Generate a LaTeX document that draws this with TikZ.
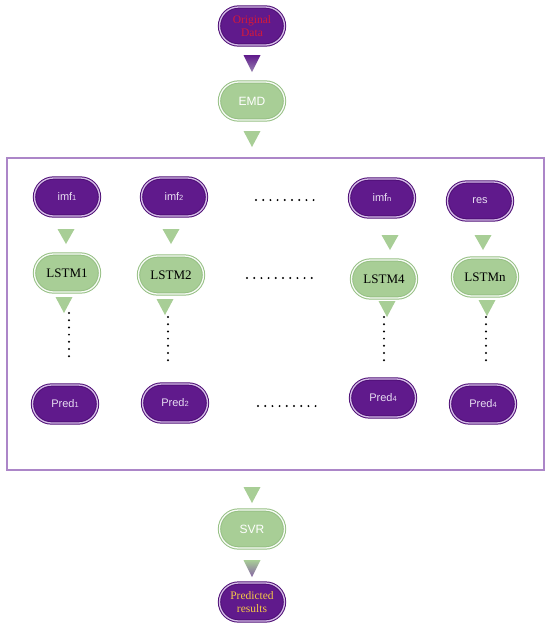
\documentclass[tikz,border=0pt]{standalone}
\usepackage{fontspec}
\setmainfont{Liberation Serif}
\setsansfont{Liberation Sans}
\usetikzlibrary{shapes.misc,calc}
\definecolor{pp}{RGB}{96,26,140}
\definecolor{ppedge}{RGB}{78,14,118}
\definecolor{lav}{RGB}{214,190,232}
\definecolor{gg}{RGB}{168,206,150}
\definecolor{ggedge}{RGB}{150,192,132}
\definecolor{framec}{RGB}{172,134,200}
\definecolor{txtlav}{RGB}{232,222,242}
\definecolor{origred}{RGB}{215,25,55}
\definecolor{predyel}{RGB}{245,200,70}
\definecolor{trigrey}{RGB}{150,130,175}
\newcommand\tridown[3][gg]{\fill[#1] ($(#2)+(-8.5,0)$) -- ($(#2)+(8.5,0)$) -- ($(#2)+(0,#3)$) -- cycle;}
\newcommand\subsm[1]{{\fontsize{7.5}{7.5}\selectfont #1}}
\begin{document}
\begin{tikzpicture}[x=1pt,y=-1pt,
  pill/.style={rounded rectangle, minimum width=67pt, minimum height=38pt, inner sep=1pt,
     line width=1pt, double distance=1.3pt},
  ppill/.style={pill, fill=pp, draw=ppedge, double=lav},
  gpill/.style={pill, fill=gg, draw=ggedge, double=white!92!gg},
  sanslab/.style={font=\sffamily\fontsize{11}{12}\selectfont, text=txtlav},
  serlab/.style={font=\fontsize{13}{14}\selectfont, text=black},
  dotline/.style={line width=2.2pt, line cap=round, dash pattern=on 0pt off 7.2pt, black},
  framebox/.style={draw=framec, line width=1.5pt}
]
\useasboundingbox (0,0) rectangle (550,630);
\fill[white] (0,0) rectangle (550,630);

% frame
\draw[framebox] (7,158) rectangle (544,470);

% top part
\node[ppill, font=\fontsize{11.5}{12.5}\selectfont, text=origred, align=center] (orig) at (252,26) {Original\\Data};
\shade[top color=pp, bottom color=trigrey] (243.5,55) -- (260.5,55) -- (252,72) -- cycle;
\node[gpill, font=\sffamily\fontsize{12}{13}\selectfont, text=white] (emd) at (252,101) {EMD};
\coordinate (t2) at (252,131);
\tridown{t2}{16}

% row 1
\node[ppill, sanslab] (imf1) at (67,197) {imf\subsm{1}};
\node[ppill, sanslab] (imf2) at (174,197) {imf\subsm{2}};
\node[ppill, sanslab] (imfn) at (382,198) {imf\subsm{n}};
\node[ppill, sanslab] (res) at (480,201) {res};
\coordinate (d1a) at (256,200); \coordinate (d1b) at (316,200);
\draw[dotline] (d1a) -- (d1b);

\coordinate (a1) at (66,229); \tridown{a1}{15}
\coordinate (a2) at (171,229); \tridown{a2}{15}
\coordinate (a3) at (390,235); \tridown{a3}{15}
\coordinate (a4) at (483,235); \tridown{a4}{15}

% row 2
\node[gpill, serlab] (l1) at (67,273) {LSTM1};
\node[gpill, serlab] (l2) at (171,275) {LSTM2};
\node[gpill, serlab] (l4) at (384,279) {LSTM4};
\node[gpill, serlab] (ln) at (485,277) {LSTMn};
\coordinate (d2a) at (247,278); \coordinate (d2b) at (312,278);
\draw[dotline] (d2a) -- (d2b);

\coordinate (b1) at (64,297); \tridown{b1}{16}
\coordinate (b2) at (165,299); \tridown{b2}{16}
\coordinate (b3) at (387,301); \tridown{b3}{16}
\coordinate (b4) at (487,300); \tridown{b4}{16}

% row 3
\node[ppill, sanslab] (p1) at (65,404) {Pred\subsm{1}};
\node[ppill, sanslab] (p2) at (175,403) {Pred\subsm{2}};
\node[ppill, sanslab] (p3) at (383,398) {Pred\subsm{4}};
\node[ppill, sanslab] (p4) at (483,404) {Pred\subsm{4}};
\coordinate (d3a) at (258,406); \coordinate (d3b) at (317,406);
\draw[dotline] (d3a) -- (d3b);

% vertical dotted connectors
\coordinate (v1a) at (69,313); \coordinate (v1b) at (69,361);
\coordinate (v2a) at (168,317); \coordinate (v2b) at (168,363);
\coordinate (v3a) at (384,317); \coordinate (v3b) at (384,363);
\coordinate (v4a) at (486,317); \coordinate (v4b) at (486,363);
\draw[dotline] (v1a) -- (v1b);
\draw[dotline] (v2a) -- (v2b);
\draw[dotline] (v3a) -- (v3b);
\draw[dotline] (v4a) -- (v4b);

% bottom part
\coordinate (t3) at (252,487); \tridown{t3}{16}
\node[gpill, font=\sffamily\fontsize{12}{13}\selectfont, text=white] (svr) at (252,529) {SVR};
\shade[top color=gg, bottom color=trigrey!70!pp] (243.5,560) -- (260.5,560) -- (252,577) -- cycle;
\node[ppill, font=\fontsize{11.5}{12.5}\selectfont, text=predyel, align=center] (res2) at (252,602) {Predicted\\results};
\end{tikzpicture}
\end{document}
